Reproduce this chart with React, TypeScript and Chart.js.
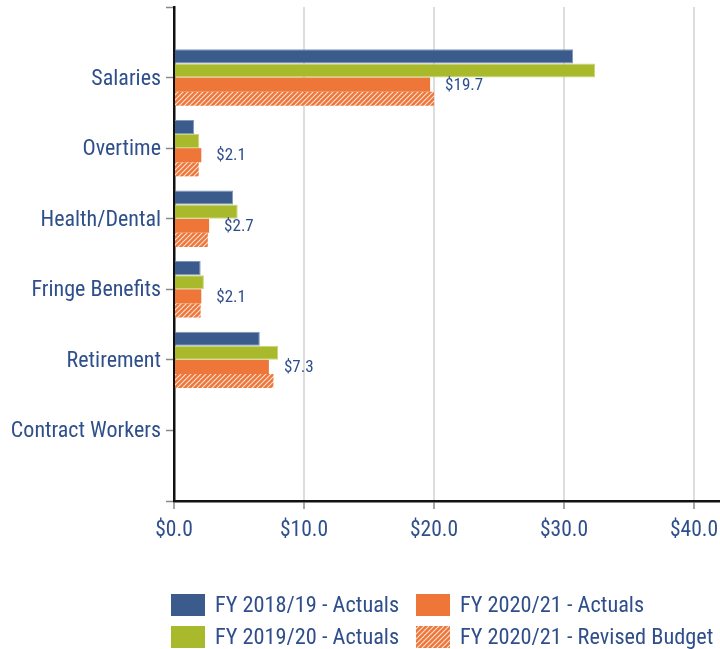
import React, { useEffect, useRef } from "react";
import { Chart, registerables } from "chart.js";

Chart.register(...registerables);

// ---------- data ----------
const categories = [
  "Salaries",
  "Overtime",
  "Health/Dental",
  "Fringe Benefits",
  "Retirement",
  "Contract Workers",
];
const seriesNames = [
  "FY 2018/19 - Actuals",
  "FY 2019/20 - Actuals",
  "FY 2020/21 - Actuals",
  "FY 2020/21 - Revised Budget",
];
const fy1819Actuals = [30.7, 1.55, 4.55, 2.05, 6.6, 0];
const fy1920Actuals = [32.4, 1.95, 4.9, 2.3, 8.0, 0];
const fy2021Actuals = [19.7, 2.1, 2.7, 2.1, 7.3, 0];
const fy2021Budget = [20.0, 1.9, 2.6, 2.05, 7.65, 0];
const xTickValues = [0, 10, 20, 30, 40];
const xMin = 0;
const xMax = 42;

// ---------- styles ----------
const FONT = '"Roboto Condensed", "Liberation Sans Narrow", sans-serif';
const TEXT = "#2f4f8c";
const BLUE = "#3a5b8c";
const GREEN = "#a8ba2c";
const ORANGE = "#ee7639";

function makeHatch(color: string): CanvasPattern | string {
  const s = 5;
  const c = document.createElement("canvas");
  c.width = s;
  c.height = s;
  const g = c.getContext("2d");
  if (!g) return color;
  g.fillStyle = color;
  g.fillRect(0, 0, s, s);
  g.strokeStyle = "rgba(255,255,255,0.8)";
  g.lineWidth = 1.1;
  g.beginPath();
  g.moveTo(0, s);
  g.lineTo(s, 0);
  g.moveTo(-s / 2, s / 2);
  g.lineTo(s / 2, -s / 2);
  g.moveTo(s / 2, s * 1.5);
  g.lineTo(s * 1.5, s / 2);
  g.stroke();
  return g.createPattern(c, "repeat") || color;
}

const pad = (arr: number[]) => [null, ...arr, null];

const valueLabels = {
  id: "valueLabels",
  afterDatasetsDraw(chart: any) {
    const meta = chart.getDatasetMeta(2);
    const data = chart.data.datasets[2].data;
    const ctx = chart.ctx;
    ctx.save();
    ctx.font = `17px ${FONT}`;
    ctx.fillStyle = TEXT;
    ctx.textAlign = "left";
    ctx.textBaseline = "middle";
    meta.data.forEach((el: any, i: number) => {
      const v = data[i];
      if (v == null || v === 0) return;
      ctx.fillText("$" + Number(v).toFixed(1), el.x + 15, el.y + 1);
    });
    ctx.restore();
  },
};

const customLegend = {
  id: "customLegend",
  afterDraw(chart: any) {
    const ctx = chart.ctx;
    const left = chart.chartArea.left - 3;
    const cols = [left, left + 245];
    const rows = [594, 626];
    const order = [
      [0, 0, 0],
      [2, 1, 0],
      [1, 0, 1],
      [3, 1, 1],
    ];
    ctx.save();
    ctx.font = `22.3px ${FONT}`;
    ctx.textAlign = "left";
    ctx.textBaseline = "alphabetic";
    order.forEach(([di, c, r]) => {
      const ds = chart.data.datasets[di];
      const x = cols[c];
      const y = rows[r];
      ctx.fillStyle = ds.backgroundColor;
      ctx.fillRect(x, y, 34, 22);
      ctx.fillStyle = TEXT;
      ctx.fillText(ds.label, x + 44, y + 18);
    });
    ctx.restore();
  },
};

export default function App() {
  const ref = useRef<HTMLCanvasElement>(null);

  useEffect(() => {
    if (!ref.current) return;
    const hatch = makeHatch(ORANGE);
    const zeroNoBorder = (w: number) => (c: any) => (c.raw ? w : 0);
    const chart = new Chart(ref.current, {
      type: "bar",
      data: {
        labels: ["", ...categories, ""],
        datasets: [
          {
            label: seriesNames[0],
            data: pad(fy1819Actuals),
            backgroundColor: BLUE,
            borderColor: "#8097bd",
            borderWidth: zeroNoBorder(1),
          },
          {
            label: seriesNames[1],
            data: pad(fy1920Actuals),
            backgroundColor: GREEN,
            borderColor: "#c9d57a",
            borderWidth: zeroNoBorder(1),
          },
          {
            label: seriesNames[2],
            data: pad(fy2021Actuals),
            backgroundColor: ORANGE,
            borderWidth: 0,
          },
          {
            label: seriesNames[3],
            data: pad(fy2021Budget),
            backgroundColor: hatch as any,
            borderWidth: 0,
          },
        ],
      },
      options: {
        indexAxis: "y",
        responsive: false,
        animation: false,
        events: [],
        categoryPercentage: 0.8,
        barPercentage: 1.0,
        layout: { padding: { top: 7, left: 0, right: 0, bottom: 100 } },
        plugins: {
          legend: { display: false },
          tooltip: { enabled: false },
          title: { display: false },
        },
        scales: {
          x: {
            type: "linear",
            min: xMin,
            max: xMax,
            afterBuildTicks: (scale: any) => {
              scale.ticks = xTickValues.map((v) => ({ value: v }));
            },
            afterFit: (scale: any) => {
              scale.height = 48;
              scale.paddingLeft = 0;
              scale.paddingRight = 0;
            },
            ticks: {
              font: { family: FONT, size: 21.5 },
              color: TEXT,
              padding: 9,
              maxRotation: 0,
              callback: (v: any) => "$" + Number(v).toFixed(1),
            },
            grid: {
              color: "#dddddd",
              lineWidth: 2,
              drawTicks: true,
              tickLength: 8,
              tickColor: "#888888",
              tickWidth: 1.5,
            },
            border: { display: true, color: "#111111", width: 2.5 },
          },
          y: {
            type: "category",
            offset: false,
            z: 1,
            afterFit: (scale: any) => {
              scale.width = 174;
              scale.paddingTop = 0;
              scale.paddingBottom = 0;
            },
            ticks: {
              font: { family: FONT, size: 22 },
              color: TEXT,
              padding: 5,
              labelOffset: 1.5,
              autoSkip: false,
            },
            grid: {
              offset: false,
              drawOnChartArea: false,
              drawTicks: true,
              tickLength: 8,
              tickColor: "#888888",
              tickWidth: 1.5,
            },
            border: { display: true, color: "#111111", width: 2.5 },
          },
        },
      },
      plugins: [valueLabels, customLegend],
    } as any);
    return () => chart.destroy();
  }, []);

  return (
    <div
      style={{
        position: "absolute",
        left: 0,
        top: 0,
        width: 720,
        height: 649,
        background: "#ffffff",
      }}
    >
      <canvas ref={ref} width={720} height={649} />
    </div>
  );
}
